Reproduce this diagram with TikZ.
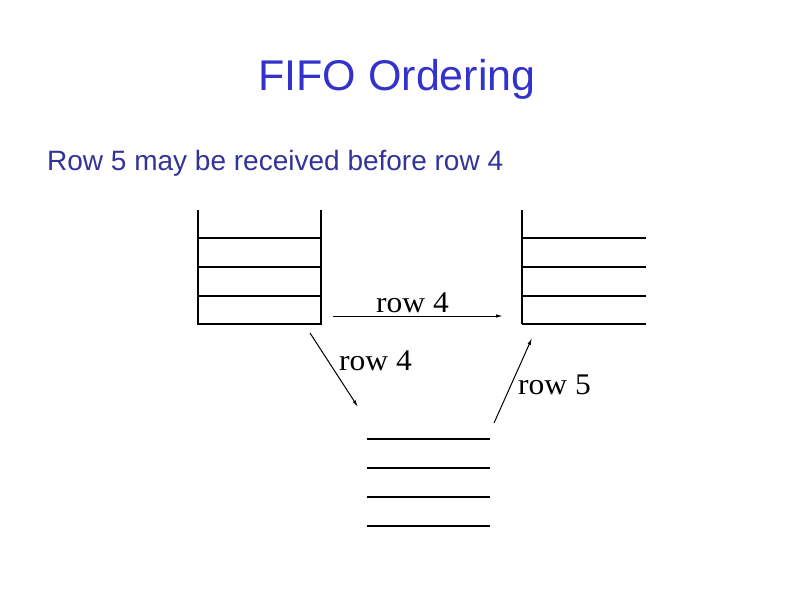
\documentclass[tikz,border=0pt]{standalone}
\usepackage{fontspec}
\setmainfont{Liberation Serif}
\setsansfont{Liberation Sans}
\usepackage{xcolor}
\usetikzlibrary{
    arrows.meta,
    positioning
}
\definecolor{titleblue}{HTML}{3333CC}
\definecolor{textblue}{HTML}{333399}
\tikzset{
    slidetitle/.style={
        font=\sffamily\fontsize{43}{43}\selectfont,
        text=titleblue,
        inner sep=0pt,
        anchor=base
    },
    slidetext/.style={
        font=\sffamily\fontsize{28}{28}\selectfont,
        text=textblue,
        inner sep=0pt,
        anchor=base west
    },
    rowlabel/.style={
        font=\rmfamily\fontsize{30}{30}\selectfont,
        xscale=1.05,
        transform shape,
        inner sep=0pt,
        anchor=base west
    },
    queue/.style={
        line width=1.2pt
    },
    msg/.style={
        -{Latex[length=7pt, width=3.5pt]},
        line width=1pt
    }
}

\begin{document}
\begin{tikzpicture}[x=1pt, y=-1pt]
\useasboundingbox (0,0) rectangle (794,595);

\node[slidetitle] (title) at (397,90) {FIFO Ordering};
\node[slidetext] (claim) at (47,170) {Row 5 may be received before row 4};

% sender queue
\draw[queue] (198,210) -- (198,324) -- (321,324) -- (321,210);
\foreach \y in {238,267,296}
    \draw[queue] (198,\y) -- (321,\y);

% receiver queue
\draw[queue] (522,210) -- (522,324);
\foreach \y in {238,267,296,324}
    \draw[queue] (522,\y) -- (646,\y);

% forwarding queue
\foreach \y in {439,468,497,526}
    \draw[queue] (367,\y) -- (490,\y);

\coordinate (sendout) at (333,316);
\coordinate (recvin) at (503,316);
\coordinate (senddown) at (310,333);
\coordinate (fwdin) at (358,407);
\coordinate (fwdout) at (494,423);
\coordinate (recvup) at (532,338);

\draw[msg] (sendout) -- (recvin);
\draw[msg] (senddown) -- (fwdin);
\draw[msg] (fwdout) -- (recvup);

\node[rowlabel] (direct) at (376,312) {row 4};
\node[rowlabel] (via) at (339,370) {row 4};
\node[rowlabel] (late) at (518,394) {row 5};

\end{tikzpicture}
\end{document}
